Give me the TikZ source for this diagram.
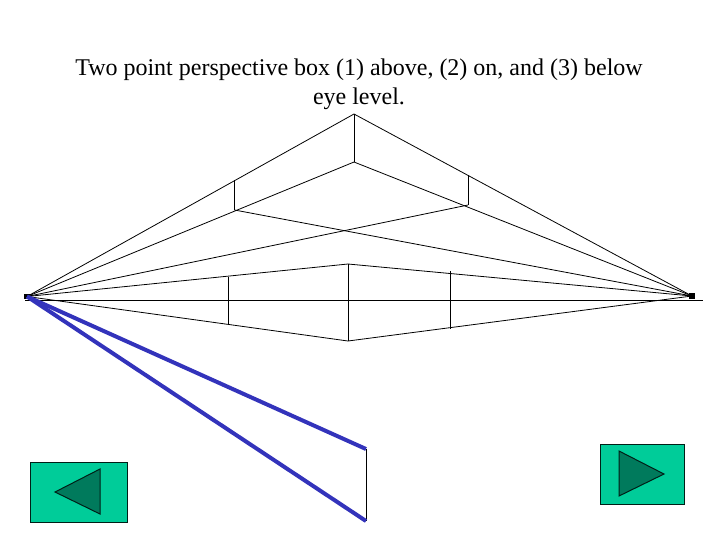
\documentclass[tikz,border=0pt]{standalone}
\usepackage{fontspec}
\setmainfont{Liberation Serif}
\usepackage{xcolor}
\usetikzlibrary{positioning}
\definecolor{navgreen}{HTML}{00CC99}
\definecolor{navdark}{HTML}{007A5C}
\definecolor{boxblue}{HTML}{3333BB}

\begin{document}
\begin{tikzpicture}[
    x=0.75pt, y=-0.75pt,
    persp/.style={draw=black, line width=0.6pt},
    edge/.style={draw=black, line width=0.75pt},
    blueline/.style={draw=boxblue, line width=3pt},
    vp/.style={fill=black, inner sep=0pt, minimum size=3.8pt},
    navbox/.style={draw=black!85!navgreen, fill=navgreen, line width=0.75pt},
    navtri/.style={draw=black!85!navgreen, fill=navdark, line width=0.75pt}
]
\useasboundingbox (0,0) rectangle (720,540);

\node[align=center, font=\fontsize{18}{21.8}\selectfont] (title) at (359,84.5) {Two point perspective box (1) above, (2) on, and (3) below\\eye level.};

% vanishing points and eye level
\node[vp] (vpL) at (27,296.5) {};
\node[vp] (vpR) at (692,296) {};
\coordinate (eyeL) at (25,300);
\coordinate (eyeR) at (703,300);
\draw[persp] (eyeL) -- (eyeR);

% box 1
\coordinate (a1) at (354,114);
\coordinate (a2) at (354,162);
\coordinate (a3) at (234.5,180);
\coordinate (a4) at (234.5,210);
\coordinate (a5) at (468,175);
\coordinate (a6) at (468,205);
\draw[persp] (vpL.center) -- (a1) -- (vpR.center);
\draw[persp] (vpL.center) -- (a2) -- (vpR.center);
\draw[persp] (a4) -- (vpR.center);
\draw[persp] (a6) -- (vpL.center);
\draw[edge] (a1) -- (a2);
\draw[edge] (a3) -- (a4);
\draw[edge] (a5) -- (a6);

% box 2
\coordinate (b1) at (348,264);
\coordinate (b2) at (348,341);
\coordinate (b3) at (228,277);
\coordinate (b4) at (228,325);
\coordinate (b5) at (450,271);
\coordinate (b6) at (450,329);
\draw[persp] (vpL.center) -- (b1) -- (vpR.center);
\draw[persp] (vpL.center) -- (b2) -- (vpR.center);
\draw[edge] (b1) -- (b2);
\draw[edge] (b3) -- (b4);
\draw[edge] (b5) -- (b6);

% box 3
\coordinate (c1) at (366,449);
\coordinate (c2) at (366,521);
\draw[edge] (c1) -- (c2);
\draw[blueline] (vpL.center) -- (c1);
\draw[blueline] (vpL.center) -- (c2);

% buttons
\draw[navbox] (30,462) rectangle (127,522);
\draw[navtri] (55,492) -- (100,469) -- (100,514) -- cycle;
\draw[navbox] (600,444) rectangle (684,504);
\draw[navtri] (619,451) -- (664,474) -- (619,496) -- cycle;
\end{tikzpicture}
\end{document}
